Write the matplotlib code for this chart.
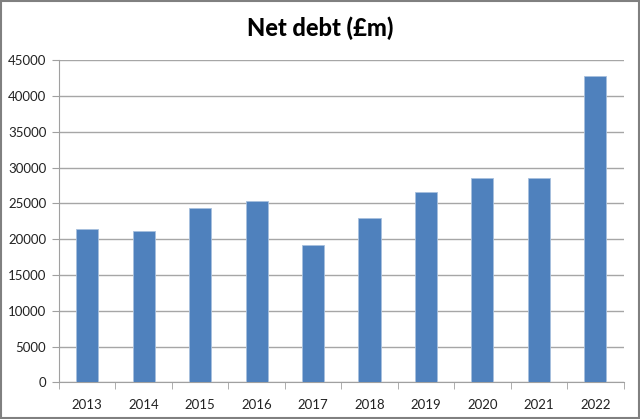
import matplotlib
matplotlib.use("Agg")
import matplotlib.pyplot as plt
from matplotlib.patches import Rectangle
import numpy as np

years = ["2013", "2014", "2015", "2016", "2017", "2018", "2019", "2020", "2021", "2022"]
net_debt = [21400, 21150, 24370, 25300, 19200, 23020, 26560, 28520, 28520, 42780]
yticks = [0, 5000, 10000, 15000, 20000, 25000, 30000, 35000, 40000, 45000]

plt.rcParams['font.family'] = ['Lato', 'DejaVu Sans']

fig = plt.figure(figsize=(6.4, 4.19), dpi=100)
ax = fig.add_axes([0.0919, 0.0876, 0.8826, 0.7684])

x = np.arange(len(years))
ax.bar(x, net_debt, width=0.39, color='#4F81BD', edgecolor='#A7C0DE', linewidth=0.6, zorder=3)

ax.set_xlim(-0.5, len(years) - 0.5)
ax.set_ylim(0, 45000)
ax.set_yticks(yticks)
ax.set_yticklabels([str(v) for v in yticks], fontsize=9.5, color='#222222')
ax.set_xticks(x)
ax.set_xticklabels(years, fontsize=9.5, color='#222222')
ax.set_xticks(np.arange(-0.5, len(years)), minor=True)
ax.tick_params(axis='x', which='major', length=0, pad=12)
ax.tick_params(axis='x', which='minor', length=5, color='#A0A0A0', direction='out')
ax.tick_params(axis='y', which='major', length=5, color='#A0A0A0', direction='out', pad=4)

ax.grid(axis='y', color='#A6A6A6', linewidth=1.0, zorder=0)
for s in ['top', 'right']:
    ax.spines[s].set_visible(False)
ax.spines['left'].set_color('#A0A0A0')
ax.spines['bottom'].set_color('#A0A0A0')

fig.text(0.5, 0.932, "Net debt (£m)", ha='center', va='center', fontsize=17, fontweight='black')

fig.patches.append(Rectangle((0.002, 0.003), 0.996, 0.994, transform=fig.transFigure,
                             fill=False, edgecolor='#808080', linewidth=1.5))

fig.savefig("out.png", dpi=100)
